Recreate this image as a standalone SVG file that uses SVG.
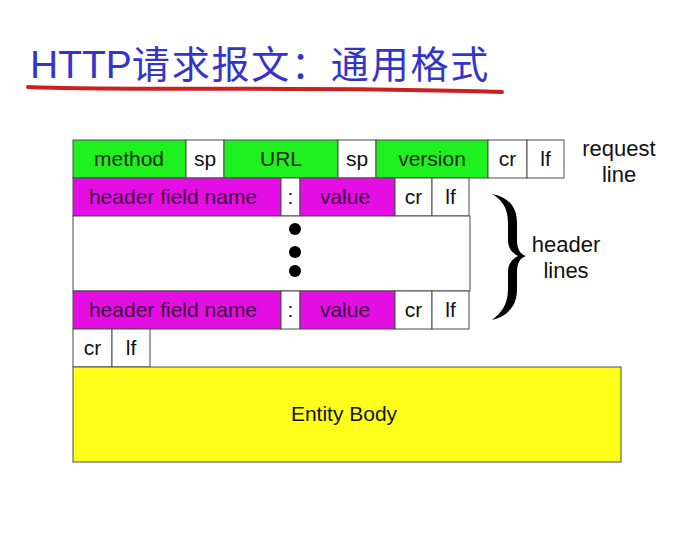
<svg xmlns="http://www.w3.org/2000/svg" width="700" height="538" viewBox="0 0 700 538">
<style>
  .c { stroke: #4a4a4a; stroke-width: 1; }
  .g { fill: #1ff01f; }
  .m { fill: #e40ee4; }
  .w { fill: #ffffff; }
  .y { fill: #ffff1a; }
  text { font-family: "Liberation Sans", Arial, sans-serif; font-size: 21px; text-anchor: middle; }
  .tg { fill: #0c2a0c; }
  .tm { fill: #3a0a3a; }
  .tk { fill: #111111; }
  .lab { font-size: 22px; fill: #111111; }
</style>
<rect width="700" height="538" fill="#ffffff"/>
<g id="title">
  <text x="30" y="78" style="font-family:'Liberation Sans','Noto Sans CJK SC',sans-serif;font-size:39px;text-anchor:start;fill:#3434cc">HTTP<tspan style="font-family:'Noto Sans CJK SC',sans-serif;font-size:38px;letter-spacing:1.8px">请求报文：通用格式</tspan></text>
  <path d="M28,87 C120,91 300,86 502,92" fill="none" stroke="#cc2020" stroke-width="4" stroke-linecap="round"/>
</g>
<g id="request-line">
  <rect class="c g" x="73" y="140" width="113" height="38"/>
  <text class="tg" x="129" y="166">method</text>
  <rect class="c w" x="186" y="140" width="38" height="38"/>
  <text class="tk" x="205" y="166">sp</text>
  <rect class="c g" x="224" y="140" width="114" height="38"/>
  <text class="tg" x="281" y="166">URL</text>
  <rect class="c w" x="338" y="140" width="38" height="38"/>
  <text class="tk" x="357" y="166">sp</text>
  <rect class="c g" x="376" y="140" width="112" height="38"/>
  <text class="tg" x="432" y="166">version</text>
  <rect class="c w" x="488" y="140" width="39" height="38"/>
  <text class="tk" x="507.5" y="166">cr</text>
  <rect class="c w" x="527" y="140" width="37" height="38"/>
  <text class="tk" x="545.5" y="166">lf</text>
</g>
<g id="request-line-label">
  <text class="lab" x="619" y="156">request</text>
  <text class="lab" x="619" y="182">line</text>
</g>
<g id="header-line-1">
  <rect class="c m" x="73" y="178" width="208" height="38"/>
  <text class="tm" x="173" y="204">header field name</text>
  <rect class="c w" x="281" y="178" width="19" height="38"/>
  <text class="tk" x="290.5" y="204">:</text>
  <rect class="c m" x="300" y="178" width="95" height="38"/>
  <text class="tm" x="345" y="204">value</text>
  <rect class="c w" x="395" y="178" width="37" height="38"/>
  <text class="tk" x="413.5" y="204">cr</text>
  <rect class="c w" x="432" y="178" width="37" height="38"/>
  <text class="tk" x="450.5" y="204">lf</text>
</g>
<g id="header-gap">
  <rect class="c w" x="73" y="216" width="397" height="75"/>
  <circle cx="295" cy="229" r="6" fill="#000"/>
  <circle cx="295" cy="252" r="6" fill="#000"/>
  <circle cx="295" cy="271" r="6" fill="#000"/>
</g>
<g id="header-line-n">
  <rect class="c m" x="73" y="291" width="208" height="38"/>
  <text class="tm" x="173" y="317">header field name</text>
  <rect class="c w" x="281" y="291" width="19" height="38"/>
  <text class="tk" x="290.5" y="317">:</text>
  <rect class="c m" x="300" y="291" width="95" height="38"/>
  <text class="tm" x="345" y="317">value</text>
  <rect class="c w" x="395" y="291" width="37" height="38"/>
  <text class="tk" x="413.5" y="317">cr</text>
  <rect class="c w" x="432" y="291" width="37" height="38"/>
  <text class="tk" x="450.5" y="317">lf</text>
</g>
<g id="blank-line">
  <rect class="c w" x="73" y="329" width="39" height="38"/>
  <text class="tk" x="92.5" y="355">cr</text>
  <rect class="c w" x="112" y="329" width="38" height="38"/>
  <text class="tk" x="131" y="355">lf</text>
</g>
<g id="entity-body">
  <rect class="c y" x="73" y="367" width="548" height="95"/>
  <text class="tk" x="344" y="421">Entity Body</text>
</g>
<g id="connectors">
  <path d="M492,194 C507,197 517,205 517,223 L517,240 C517,249 520,254 526,256 C520,258 517,263 517,272 L517,289 C517,307 507,316 492,320 C501,313 508,305 508,289 L508,272 C508,264 512,259 518,256 C512,253 508,248 508,240 L508,223 C508,207 501,199 492,194 Z" fill="#000"/>
</g>
<g id="header-lines-label">
  <text class="lab" x="566" y="252">header</text>
  <text class="lab" x="566" y="278">lines</text>
</g>
</svg>
